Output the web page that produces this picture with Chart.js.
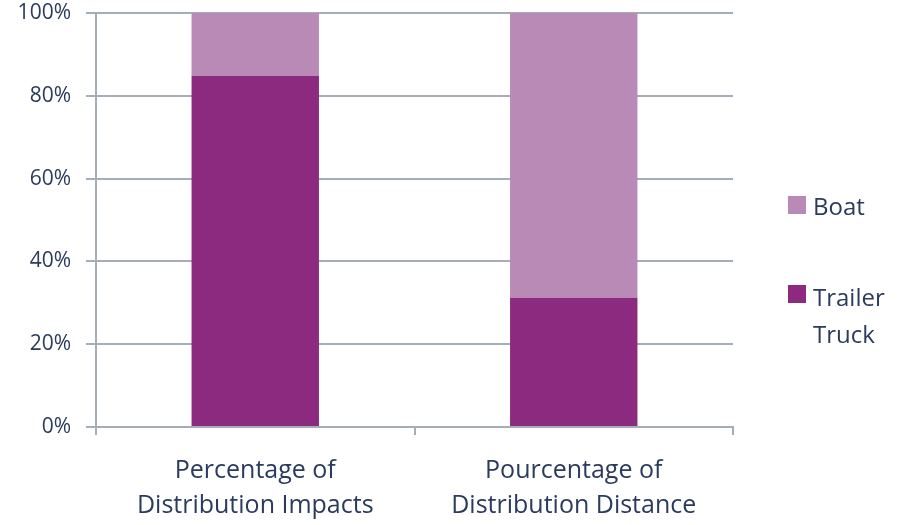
<!DOCTYPE html>
<html lang="en">
<head>
  <meta charset="utf-8">
  <title>Distribution</title>
  <script src="https://cdn.jsdelivr.net/npm/chart.js"></script>
  <style>
    html, body { margin: 0; padding: 0; background: #fff; }
    #wrap { position: relative; width: 900px; height: 525px; }
  </style>
</head>
<body>
<div id="wrap"><canvas id="myChart" width="900" height="525"></canvas></div>
<script>
  // data
  const categories = [
    ['Percentage of', 'Distribution Impacts'],
    ['Pourcentage of', 'Distribution Distance']
  ];
  const truckValues = [84.8, 31.2];
  const boatValues = [15.2, 68.8];
  const legendLabels = { boat: ['Boat'], truck: ['Trailer', 'Truck'] };
  const yTicks = [0, 20, 40, 60, 80, 100];

  const textColor = '#2b3b5e';
  const gridColor = '#a5adb9';
  const fontFamily = '"Open Sans", Lato, sans-serif';

  // draws the legend on the right, with wrapped labels
  const sideLegend = {
    id: 'sideLegend',
    afterDraw(chart) {
      const ctx = chart.ctx;
      const sets = chart.data.datasets;
      const rows = [
        { ds: sets[1], lines: legendLabels.boat, y: 208, box: 196 },
        { ds: sets[0], lines: legendLabels.truck, y: 299, box: 285 }
      ];
      ctx.save();
      ctx.font = '24px ' + fontFamily;
      ctx.textBaseline = 'middle';
      rows.forEach(r => {
        ctx.fillStyle = r.ds.backgroundColor;
        ctx.fillRect(788, r.box, 18, 18);
        ctx.fillStyle = textColor;
        r.lines.forEach((t, i) => ctx.fillText(t, 813, r.y + i * 37));
      });
      ctx.restore();
    }
  };

  const chart = new Chart(document.getElementById('myChart'), {
    type: 'bar',
    data: {
      labels: categories,
      datasets: [
        { label: 'Trailer Truck', data: truckValues, backgroundColor: '#8b2a7f' },
        { label: 'Boat', data: boatValues, backgroundColor: '#b98ab5' }
      ]
    },
    options: {
      responsive: false,
      animation: false,
      devicePixelRatio: 1,
      layout: { padding: { left: 0, right: 167, top: 13, bottom: 0 } },
      categoryPercentage: 0.8,
      barPercentage: 0.5,
      plugins: { legend: { display: false }, tooltip: { enabled: false } },
      scales: {
        x: {
          stacked: true,
          grid: { offset: true, drawOnChartArea: false, color: gridColor, lineWidth: 2, tickLength: 8 },
          border: { color: gridColor, width: 2 },
          ticks: { color: textColor, font: { family: fontFamily, size: 25, lineHeight: 1.42 }, padding: 18, maxRotation: 0 },
          afterFit(axis) { axis.height = 98; }
        },
        y: {
          stacked: true,
          min: 0,
          max: 100,
          afterBuildTicks(axis) { axis.ticks = yTicks.map(v => ({ value: v })); },
          grid: { color: gridColor, lineWidth: 2, tickLength: 10 },
          border: { color: gridColor, width: 2 },
          ticks: {
            color: textColor,
            font: { family: fontFamily, size: 21 },
            padding: 15,
            callback: v => v + '%'
          },
          afterFit(axis) {
            axis.width = 96;
            axis.paddingTop = 0;
            axis.paddingBottom = 0;
          }
        }
      }
    },
    plugins: [sideLegend]
  });
</script>
</body>
</html>
